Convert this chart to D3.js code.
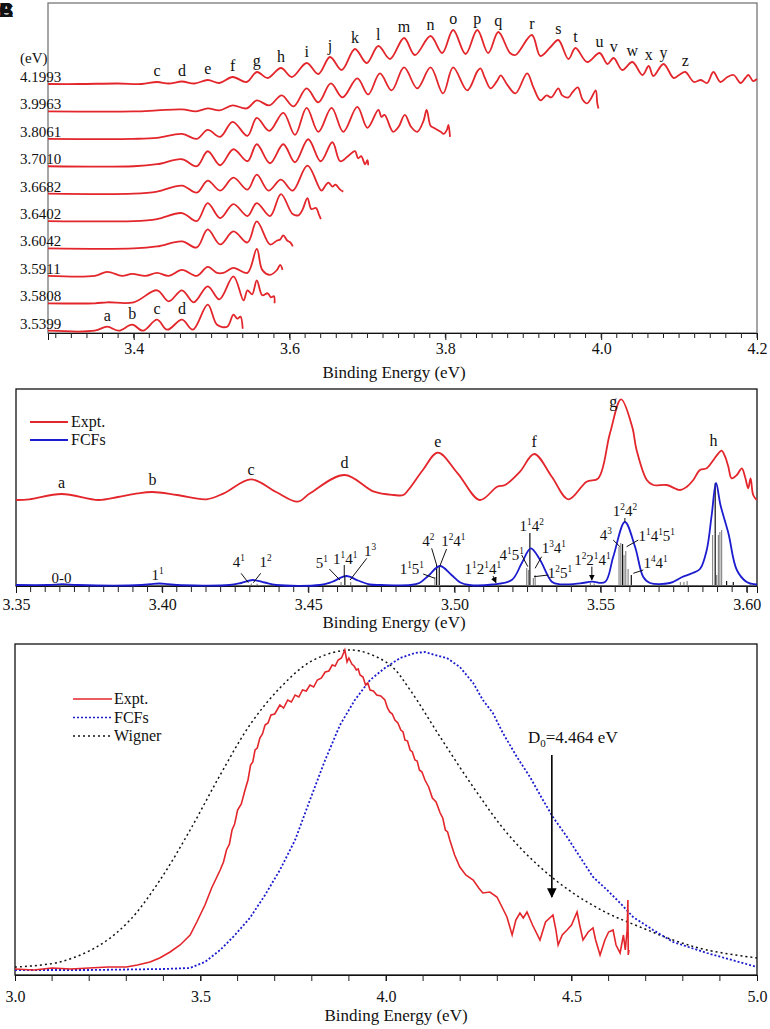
<!DOCTYPE html>
<html>
<head>
<meta charset="utf-8">
<script src="https://cdn.jsdelivr.net/npm/d3@7"></script>
<style>
  body { margin: 0; background: #fff; }
  text { font-family: "Liberation Serif", "Times New Roman", Times, serif; fill: #111; }
</style>
</head>
<body>
<div id="wrapper"></div>
<script>
// ---------- Panel A data: photon energy of each trace, [binding energy, intensity] ----------
const traceLabels = ["4.1993", "3.9963", "3.8061", "3.7010", "3.6682", "3.6402", "3.6042", "3.5911", "3.5808", "3.5399"];

const tr41993 = [[3.29,0],[3.33,0],[3.38,0.5],[3.41,0],[3.43,2],[3.445,0.5],[3.462,2.5],[3.478,0.5],[3.495,4],[3.51,1],[3.527,7],[3.545,2],[3.558,12],[3.572,6],[3.589,16],[3.603,7],[3.622,21],[3.637,10],[3.652,27],[3.667,14],[3.684,35],[3.699,21],[3.714,38],[3.729,25],[3.747,46],[3.761,29],[3.781,48],[3.796,31],[3.810,54],[3.826,30],[3.841,54],[3.855,31],[3.868,52],[3.883,31],[3.890,29],[3.911,49],[3.922,28],[3.935,37],[3.945,44],[3.958,25],[3.967,36],[3.982,22],[3.998,31],[4.008,20],[4.016,26],[4.027,14],[4.040,22],[4.053,9],[4.061,18],[4.067,8],[4.080,20],[4.093,6],[4.100,9],[4.108,12],[4.119,2],[4.128,4],[4.136,1],[4.144,12],[4.153,2],[4.162,7],[4.17,9],[4.179,1],[4.185,6],[4.189,9],[4.195,3],[4.2,5]];
const tr39963 = [[3.29,0],[3.40,0],[3.43,1],[3.462,2],[3.48,0],[3.495,3],[3.51,1],[3.527,6],[3.545,3],[3.558,11],[3.574,6],[3.59,16],[3.605,5],[3.622,23],[3.637,9],[3.653,28],[3.668,14],[3.687,33],[3.701,17],[3.716,38],[3.731,21],[3.747,44],[3.764,23],[3.781,44],[3.797,18],[3.810,44],[3.828,21],[3.841,40],[3.845,43],[3.851,33],[3.858,23],[3.866,30],[3.871,36],[3.880,26],[3.890,18],[3.905,38],[3.913,24],[3.922,11],[3.93,16],[3.936,14],[3.945,23],[3.95,16],[3.958,14],[3.963,19],[3.97,24],[3.976,12],[3.982,8],[3.987,13],[3.993,21],[3.995,8],[3.9965,3]];
const tr38061 = [[3.29,0],[3.40,0],[3.43,1],[3.462,5],[3.481,0],[3.495,9],[3.511,2],[3.527,17],[3.546,3],[3.558,21],[3.574,8],[3.592,26],[3.607,4],[3.622,31],[3.637,7],[3.654,31],[3.669,7],[3.687,32],[3.7,11],[3.714,29],[3.718,22],[3.722,24],[3.733,7],[3.74,12],[3.748,24],[3.756,12],[3.764,7],[3.772,18],[3.776,29],[3.781,13],[3.785,11],[3.794,7],[3.798,5],[3.802,9],[3.804,14],[3.806,2]];
const tr37010 = [[3.29,0],[3.40,0],[3.43,2],[3.462,7],[3.481,0],[3.495,15],[3.511,1],[3.528,17],[3.546,5],[3.558,22],[3.575,3],[3.592,22],[3.607,4],[3.624,27],[3.64,5],[3.655,24],[3.665,5],[3.675,10],[3.684,15],[3.688,8],[3.692,10],[3.697,2],[3.7,6],[3.701,1]];
const tr36682 = [[3.29,0],[3.40,0],[3.43,2],[3.462,8],[3.481,1],[3.495,13],[3.511,3],[3.528,16],[3.546,4],[3.558,19],[3.573,3],[3.589,14],[3.604,3],[3.623,28],[3.641,3],[3.646,8],[3.65,11],[3.655,7],[3.659,9],[3.665,4],[3.669,2]];
const tr36402 = [[3.29,0],[3.40,0],[3.43,2],[3.462,8],[3.481,0],[3.495,18],[3.511,3],[3.528,17],[3.546,5],[3.558,18],[3.575,5],[3.589,27],[3.604,7],[3.612,6],[3.617,12],[3.623,23],[3.628,12],[3.634,13],[3.638,6],[3.6402,2]];
const tr36042 = [[3.29,0],[3.40,0],[3.43,2],[3.462,7],[3.481,1],[3.495,19],[3.511,4],[3.528,17],[3.546,6],[3.558,27],[3.575,4],[3.584,8],[3.588,9],[3.592,13],[3.597,8],[3.601,6],[3.6042,2]];
const tr35911 = [[3.29,0],[3.35,0],[3.366,4],[3.385,0],[3.398,2],[3.415,0],[3.43,3],[3.445,0],[3.462,6],[3.481,0],[3.495,9],[3.507,3],[3.515,3],[3.528,8],[3.546,3],[3.558,27],[3.565,6],[3.575,1],[3.584,6],[3.588,11],[3.5911,6]];
const tr35808 = [[3.29,0],[3.35,0],[3.366,1],[3.40,1],[3.43,13],[3.445,2],[3.462,13],[3.477,1],[3.495,17],[3.51,4],[3.528,27],[3.541,3],[3.546,13],[3.552,9],[3.558,23],[3.565,8],[3.572,10],[3.576,6],[3.58,7],[3.5808,0]];
const tr35399 = [[3.29,0],[3.35,0],[3.366,4],[3.381,0],[3.398,6],[3.412,0],[3.43,11],[3.443,1],[3.462,11],[3.476,1],[3.495,26],[3.507,6],[3.52,4],[3.528,16],[3.533,12],[3.537,14],[3.5399,2]];
const tracesA = [tr41993, tr39963, tr38061, tr37010, tr36682, tr36402, tr36042, tr35911, tr35808, tr35399];

// peak letters
const topLetters = [["c",3.430],["d",3.462],["e",3.495],["f",3.527],["g",3.558],["h",3.589],["i",3.622],["j",3.652],["k",3.684],["l",3.714],["m",3.747],["n",3.781],["o",3.810],["p",3.841],["q",3.868],["r",3.911],["s",3.945],["t",3.967],["u",3.998],["v",4.016],["w",4.040],["x",4.061],["y",4.080],["z",4.108]];
const bottomLetters = [["a",3.366],["b",3.398],["c",3.430],["d",3.462]];

// ---------- Panel B data ----------
const exptB = [[3.35,0],[3.3546,0.7],[3.3656,6],[3.3782,0],[3.3849,3],[3.3917,6.7],[3.3967,8],[3.4051,5],[3.4152,0.7],[3.4211,6.7],[3.4304,20.7],[3.4388,8.3],[3.4464,-1.7],[3.4506,6.7],[3.4624,25],[3.4725,8.3],[3.4792,5],[3.4825,5],[3.4842,10],[3.4892,30],[3.4943,47.3],[3.5011,26.7],[3.5087,0],[3.5146,13.3],[3.5173,15],[3.5224,28.3],[3.5273,46],[3.5333,23.3],[3.539,0.7],[3.5452,18.3],[3.5492,21.7],[3.5532,66.7],[3.557,100.7],[3.5608,73.3],[3.5623,50],[3.5658,20],[3.568,15],[3.5726,15],[3.5772,10],[3.5795,13.3],[3.5817,20],[3.584,30],[3.5863,31.7],[3.5886,40],[3.5903,46.7],[3.5914,49.3],[3.5926,43.3],[3.5937,33.3],[3.5948,21.7],[3.5966,25],[3.5983,31.7],[3.5994,23.3],[3.6005,11.7],[3.6013,21.7],[3.6022,5],[3.6034,0]];
const fcfB = [[3.35,0],[3.361,0],[3.366,0.8],[3.371,0],[3.393,0],[3.396,0.8],[3.399,1.5],[3.402,0.8],[3.405,0],[3.423,0],[3.427,2],[3.431,5],[3.435,2.5],[3.439,0],[3.454,0],[3.458,3],[3.463,9],[3.467,4.5],[3.471,0.5],[3.475,0],[3.485,0],[3.488,2],[3.491,9],[3.495,19],[3.499,10],[3.502,2.5],[3.505,0],[3.513,0.5],[3.5196,5],[3.523,21.7],[3.5261,36.7],[3.5293,25],[3.5333,3.3],[3.5361,0.7],[3.543,1.7],[3.547,3.3],[3.5515,3],[3.5543,28],[3.5583,63],[3.5618,38],[3.5646,8],[3.5669,2],[3.5737,2],[3.5779,8],[3.5815,12],[3.584,16],[3.5863,35],[3.588,70],[3.5895,102],[3.591,80],[3.5937,52],[3.5966,15],[3.6,3],[3.6035,0.5]];
// [energy, intensity, 1 = black labelled line]
const sticksB = [[3.4305,1.5,0],[3.4325,1.2,0],[3.4612,3,0],[3.4625,8,1],[3.4645,3,0],[3.4933,8,0],[3.4939,20,1],[3.4948,19,1],[3.5145,1,0],[3.5247,17,0],[3.5253,15,0],[3.5258,52,1],[3.527,7,0],[3.5276,10,0],[3.5465,2,0],[3.5478,1.5,0],[3.5563,38,0],[3.5569,42,0],[3.5575,41,1],[3.558,30,0],[3.5586,34,0],[3.5594,16,0],[3.5605,10,1],[3.5773,3,0],[3.5785,3,0],[3.5796,4,0],[3.5883,50,0],[3.5892,102,1],[3.5897,10,0],[3.5903,50,0],[3.5908,53,0],[3.5914,55,0],[3.5931,4,1],[3.5954,3,1],[3.6012,1,0]];
const peakLabelsB = [["a",3.3656,12],["b",3.3967,15],["c",3.4304,25],["d",3.4624,32],["e",3.4943,53],["f",3.5273,53],["g",3.5543,93],["h",3.5886,54]];
// assignment labels: parts [base, superscript], text centre (E, I), pointer line (E1,I1,E2,I2), arrowhead
const assignB = [
  { parts: [["0-0",""]], at: [3.3656, 2] },
  { parts: [["1","1"]], at: [3.3984, 5] },
  { parts: [["4","1"]], at: [3.4262, 18], line: [3.427, 11.7, 3.4295, 2.3] },
  { parts: [["1","2"]], at: [3.4354, 18], line: [3.4337, 11.7, 3.4312, 2.3] },
  { parts: [["5","1"]], at: [3.4546, 17.5], line: [3.4572, 16, 3.4608, 5] },
  { parts: [["1","1"],["4","1"]], at: [3.4626, 21], line: [3.4623, 20, 3.4623, 8] },
  { parts: [["1","3"]], at: [3.4711, 29], line: [3.47, 26.7, 3.4643, 5] },
  { parts: [["1","1"],["5","1"]], at: [3.4854, 11], line: [3.4893, 11, 3.4933, 6.7] },
  { parts: [["4","2"]], at: [3.4911, 39.5], line: [3.4922, 36.7, 3.4939, 20] },
  { parts: [["1","2"],["4","1"]], at: [3.4996, 39], line: [3.4973, 36, 3.495, 19] },
  { parts: [["1","1"],["2","1"],["4","1"]], at: [3.5097, 11], line: [3.5132, 9, 3.5142, 2.3], arrow: true },
  { parts: [["4","1"],["5","1"]], at: [3.5196, 25], line: [3.523, 30, 3.5251, 18.3] },
  { parts: [["1","1"],["4","2"]], at: [3.5264, 54] },
  { parts: [["1","3"],["4","1"]], at: [3.534, 32], line: [3.5298, 28.3, 3.5276, 16.7] },
  { parts: [["1","2"],["5","1"]], at: [3.5361, 7], line: [3.5321, 10, 3.5272, 8.3] },
  { parts: [["1","2"],["2","1"],["4","1"]], at: [3.5472, 20.5], line: [3.547, 18.3, 3.547, 5], arrow: true },
  { parts: [["4","3"]], at: [3.5518, 45.5], line: [3.5543, 45, 3.5566, 38.3] },
  { parts: [["1","2"],["4","2"]], at: [3.5583, 69], line: [3.5583, 67, 3.5583, 63] },
  { parts: [["1","1"],["4","1"],["5","1"]], at: [3.5692, 44.5], line: [3.5629, 45, 3.5589, 38.3] },
  { parts: [["1","4"],["4","1"]], at: [3.5688, 17], line: [3.5646, 15, 3.5612, 11.7] }
];

// ---------- Panel C data ----------
const exptC = [[3.0,1],[3.05,0],[3.1,2],[3.15,1],[3.2,2],[3.25,3],[3.3,3],[3.33,5],[3.364,8],[3.39,12],[3.418,18],[3.445,25],[3.472,35],[3.49,48],[3.512,65],[3.53,82],[3.553,100],[3.562,108],[3.57,120],[3.578,126],[3.585,140],[3.592,146],[3.6,160],[3.61,166],[3.62,180],[3.628,190],[3.635,205],[3.641,208],[3.647,220],[3.653,222],[3.66,232],[3.667,236],[3.674,245],[3.682,247],[3.69,255],[3.7,256],[3.714,265],[3.724,262],[3.735,270],[3.745,268],[3.755,275],[3.765,273],[3.775,280],[3.785,279],[3.795,285],[3.805,283],[3.815,290],[3.826,292],[3.836,298],[3.846,299],[3.855,305],[3.863,304],[3.871,310],[3.88,312],[3.889,320],[3.895,308],[3.9,312],[3.908,306],[3.914,304],[3.92,300],[3.925,301],[3.93,295],[3.938,293],[3.945,285],[3.951,287],[3.957,280],[3.966,279],[3.975,275],[3.986,274],[3.997,270],[4.004,262],[4.01,258],[4.017,256],[4.024,250],[4.032,247],[4.04,240],[4.046,238],[4.051,230],[4.058,229],[4.065,220],[4.071,218],[4.078,210],[4.084,209],[4.09,200],[4.097,198],[4.105,190],[4.115,183],[4.125,172],[4.135,168],[4.146,157],[4.153,152],[4.16,140],[4.166,138],[4.172,130],[4.185,115],[4.199,103],[4.215,95],[4.235,90],[4.25,82],[4.261,77],[4.28,78],[4.299,73],[4.31,65],[4.326,53],[4.34,35],[4.35,50],[4.361,57],[4.37,52],[4.38,58],[4.395,45],[4.415,30],[4.43,48],[4.45,55],[4.458,40],[4.464,25],[4.475,35],[4.488,40],[4.5,45],[4.515,58],[4.522,45],[4.531,30],[4.545,38],[4.558,42],[4.565,30],[4.577,15],[4.59,30],[4.6,38],[4.612,40],[4.62,25],[4.631,17],[4.64,35],[4.645,20],[4.65,40],[4.652,70],[4.653,15],[4.655,20]];
const fcfC = [[3.0,0],[3.2,0],[3.4,1],[3.472,2],[3.512,8],[3.553,20],[3.593,35],[3.633,52],[3.674,75],[3.714,100],[3.755,130],[3.795,170],[3.836,210],[3.876,245],[3.916,270],[3.957,290],[3.997,302],[4.038,312],[4.078,317],[4.105,318],[4.132,315],[4.164,312],[4.199,303],[4.235,287],[4.261,270],[4.288,257],[4.315,237],[4.353,213],[4.388,193],[4.423,170],[4.45,153],[4.488,133],[4.523,113],[4.558,93],[4.596,80],[4.631,67],[4.666,53],[4.72,40],[4.774,28],[4.865,17],[5.0,3]];
const wignerC = [[3.0,3],[3.121,8],[3.229,25],[3.31,50],[3.391,90],[3.472,140],[3.553,195],[3.633,245],[3.714,282],[3.795,308],[3.876,319],[3.93,319],[4.011,305],[4.065,280],[4.146,233],[4.235,183],[4.326,137],[4.415,103],[4.504,77],[4.596,57],[4.685,43],[4.774,30],[4.865,20],[5.0,12]];
const dissociation = 4.447;

const RED = "#e3262b", BLUE = "#1c1ccf";
const SERIF = "'Liberation Serif', 'Times New Roman', Times, serif";

const svg = d3.select("#wrapper").append("svg")
    .attr("width", 770)
    .attr("height", 1029)
    .attr("font-family", SERIF)
    .style("background", "#fff");

const defs = svg.append("defs");
defs.append("marker")
    .attr("id", "arrow")
    .attr("viewBox", "0 0 10 10")
    .attr("refX", 9).attr("refY", 5)
    .attr("markerWidth", 6).attr("markerHeight", 7)
    .attr("orient", "auto-start-reverse")
  .append("path")
    .attr("d", "M0,0 L10,5 L0,10 z")
    .attr("fill", "#000");

function minorTicks(g, scale, values, y, size) {
  g.append("g").selectAll("line")
    .data(values)
    .join("line")
      .attr("x1", d => scale(d)).attr("x2", d => scale(d))
      .attr("y1", y).attr("y2", y + size)
      .attr("stroke", "#222");
}

function styleAxis(g, fs) {
  g.attr("font-family", SERIF);
  g.select(".domain").attr("stroke", "#111");
  g.selectAll(".tick line").attr("stroke", "#111");
  g.selectAll(".tick text")
      .attr("fill", "#111")
      .style("font-family", SERIF)
      .style("font-size", fs + "px");
}

function supText(g, parts, x, y, fs) {
  const t = g.append("text")
      .attr("x", x).attr("y", y)
      .attr("text-anchor", "middle")
      .style("font-size", fs + "px");
  let shift = 0;
  parts.forEach(([b, s]) => {
    t.append("tspan").attr("dy", shift).text(b);
    shift = 0;
    if (s) {
      t.append("tspan").attr("dy", -6).style("font-size", (fs * 0.62) + "px").text(s);
      shift = 6;
    }
  });
  return t;
}

// ---------- corner label ----------
["A", "B", "C"].forEach(l => {
  svg.append("text").attr("x", -1).attr("y", 17)
      .style("font-family", "'Liberation Sans', Arial, sans-serif")
      .style("font-weight", "bold").style("font-size", "20px")
      .text(l);
});

// =============== Panel A ===============
const xA = d3.scaleLinear().domain([3.29, 4.2]).range([48, 757]);
const baseA = d3.scalePoint().domain(traceLabels).range([84, 330.7]);
const panelA = svg.append("g");

panelA.append("rect")
    .attr("x", 48).attr("y", 3)
    .attr("width", 709).attr("height", 330)
    .attr("fill", "none").attr("stroke", "#777").attr("stroke-width", 1.3);

const axisA = panelA.append("g")
    .attr("transform", "translate(0,333)")
    .call(d3.axisBottom(xA).tickValues([3.4, 3.6, 3.8, 4.0, 4.2]).tickFormat(d3.format(".1f")).tickSize(7).tickPadding(3));
styleAxis(axisA, 16);
minorTicks(panelA, xA, d3.range(3.30, 4.2, 0.02), 333, 5);

panelA.append("text")
    .attr("x", 394).attr("y", 378)
    .attr("text-anchor", "middle")
    .style("font-size", "17px")
    .text("Binding Energy (eV)");

panelA.append("text").attr("x", 20).attr("y", 63).style("font-size", "15px").text("(eV)");

const lineA = d3.line().curve(d3.curveCatmullRom.alpha(0.5));

tracesA.forEach((tr, i) => {
  const base = baseA(traceLabels[i]);
  const yS = d3.scaleLinear().domain([0, 60]).range([base, base - 60]);
  panelA.append("path")
      .attr("d", lineA.x(d => xA(d[0])).y(d => yS(d[1]))(tr))
      .attr("fill", "none")
      .attr("stroke", RED)
      .attr("stroke-width", 1.8);
  panelA.append("text")
      .attr("x", 20).attr("y", base - 2)
      .style("font-size", "15px")
      .text(traceLabels[i]);

  const letters = i === 0 ? topLetters : (i === tracesA.length - 1 ? bottomLetters : []);
  letters.forEach(([l, e]) => {
    const near = tr.filter(d => Math.abs(d[0] - e) < 0.008);
    const top = d3.max(near, d => d[1]);
    panelA.append("text")
        .attr("x", xA(e)).attr("y", yS(top) - 6)
        .attr("text-anchor", "middle")
        .style("font-size", "16px")
        .text(l);
  });
});

// =============== Panel B ===============
const xB = d3.scaleLinear().domain([3.35, 3.6035]).range([16, 757]);
const yBe = d3.scaleLinear().domain([0, 100]).range([500, 400]);
const yBf = d3.scaleLinear().domain([0, 100]).range([585, 485]);
const panelB = svg.append("g");

panelB.append("rect")
    .attr("x", 16).attr("y", 389)
    .attr("width", 741).attr("height", 197)
    .attr("fill", "none").attr("stroke", "#111").attr("stroke-width", 1.3);

const axisB = panelB.append("g")
    .attr("transform", "translate(0,586)")
    .call(d3.axisBottom(xB).tickValues([3.35, 3.40, 3.45, 3.50, 3.55, 3.60]).tickFormat(d3.format(".2f")).tickSize(7).tickPadding(6));
styleAxis(axisB, 16);
minorTicks(panelB, xB, d3.range(3.355, 3.603, 0.005), 586, 6);

panelB.append("text")
    .attr("x", 394).attr("y", 628)
    .attr("text-anchor", "middle")
    .style("font-size", "17px")
    .text("Binding Energy (eV)");

// sticks
panelB.append("g").selectAll("line")
  .data(sticksB)
  .join("line")
    .attr("x1", d => xB(d[0])).attr("x2", d => xB(d[0]))
    .attr("y1", yBf(0)).attr("y2", d => yBf(d[1]))
    .attr("stroke", d => d[2] ? "#111" : "#8a8a8a")
    .attr("stroke-width", 1.2);

const lineB = d3.line().curve(d3.curveCatmullRom.alpha(0.5));
panelB.append("path")
    .attr("d", lineB.x(d => xB(d[0])).y(d => yBf(d[1]))(fcfB))
    .attr("fill", "none").attr("stroke", BLUE).attr("stroke-width", 1.8);
panelB.append("path")
    .attr("d", lineB.x(d => xB(d[0])).y(d => yBe(d[1]))(exptB))
    .attr("fill", "none").attr("stroke", RED).attr("stroke-width", 1.8);

peakLabelsB.forEach(([l, e, v]) => {
  panelB.append("text")
      .attr("x", xB(e)).attr("y", yBe(v))
      .attr("text-anchor", "middle")
      .style("font-size", "16px")
      .text(l);
});

assignB.forEach(a => {
  supText(panelB, a.parts, xB(a.at[0]), yBf(a.at[1]), 15);
  if (a.line) {
    panelB.append("line")
        .attr("x1", xB(a.line[0])).attr("y1", yBf(a.line[1]))
        .attr("x2", xB(a.line[2])).attr("y2", yBf(a.line[3]))
        .attr("stroke", "#111").attr("stroke-width", 1)
        .attr("marker-end", a.arrow ? "url(#arrow)" : null);
  }
});

// legend B
const legB = panelB.append("g");
[["Expt.", RED], ["FCFs", BLUE]].forEach(([name, c], i) => {
  legB.append("line")
      .attr("x1", 30).attr("x2", 68)
      .attr("y1", 422 + i * 18).attr("y2", 422 + i * 18)
      .attr("stroke", c).attr("stroke-width", 1.8);
  legB.append("text")
      .attr("x", 71).attr("y", 427 + i * 18)
      .style("font-size", "16px")
      .text(name);
});

// =============== Panel C ===============
const xC = d3.scaleLinear().domain([3.0, 5.0]).range([15, 757]);
const yC = d3.scaleLinear().domain([0, 320]).range([970, 650]);
const panelC = svg.append("g");

panelC.append("rect")
    .attr("x", 15).attr("y", 644)
    .attr("width", 742).attr("height", 331)
    .attr("fill", "none").attr("stroke", "#111").attr("stroke-width", 1.3);

const axisC = panelC.append("g")
    .attr("transform", "translate(0,975)")
    .call(d3.axisBottom(xC).tickValues([3.0, 3.5, 4.0, 4.5, 5.0]).tickFormat(d3.format(".1f")).tickSize(6).tickPadding(10));
styleAxis(axisC, 16);
minorTicks(panelC, xC, d3.range(3.1, 5.0, 0.1), 975, 6);

panelC.append("text")
    .attr("x", 396).attr("y", 1021)
    .attr("text-anchor", "middle")
    .style("font-size", "17px")
    .text("Binding Energy (eV)");

const lineC = d3.line().x(d => xC(d[0])).y(d => yC(d[1]));
panelC.append("path")
    .attr("d", lineC.curve(d3.curveCatmullRom)(wignerC))
    .attr("fill", "none").attr("stroke", "#111").attr("stroke-width", 1.5)
    .attr("stroke-dasharray", "2,3");
panelC.append("path")
    .attr("d", lineC.curve(d3.curveLinear)(fcfC))
    .attr("fill", "none").attr("stroke", BLUE).attr("stroke-width", 1.8)
    .attr("stroke-dasharray", "2,2");
panelC.append("path")
    .attr("d", lineC.curve(d3.curveLinear)(exptC))
    .attr("fill", "none").attr("stroke", RED).attr("stroke-width", 1.6);

// D0 arrow
panelC.append("line")
    .attr("x1", xC(dissociation)).attr("x2", xC(dissociation))
    .attr("y1", 755).attr("y2", 897)
    .attr("stroke", "#000").attr("stroke-width", 1.6)
    .attr("marker-end", "url(#arrow)");
const d0 = panelC.append("text")
    .attr("x", 528).attr("y", 743)
    .style("font-size", "17px");
d0.append("tspan").text("D");
d0.append("tspan").attr("dy", 4).style("font-size", "11px").text("0");
d0.append("tspan").attr("dy", -4).text("=4.464 eV");

// legend C
const legC = panelC.append("g");
[["Expt.", RED, null], ["FCFs", BLUE, "2,2"], ["Wigner", "#111", "2,3"]].forEach(([name, c, dash], i) => {
  const y = 699 + i * 18.5;
  legC.append("line")
      .attr("x1", 73).attr("x2", 112)
      .attr("y1", y).attr("y2", y)
      .attr("stroke", c).attr("stroke-width", 1.6)
      .attr("stroke-dasharray", dash);
  legC.append("text")
      .attr("x", 114).attr("y", y + 5)
      .style("font-size", "16px")
      .text(name);
});
</script>
</body>
</html>
